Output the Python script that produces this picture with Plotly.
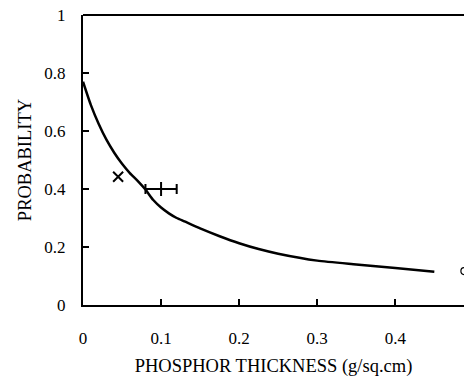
import plotly.graph_objects as go

# Fitted curve
curve_x = [0, 0.01, 0.02, 0.03, 0.04, 0.05, 0.06, 0.07, 0.08, 0.09, 0.1, 0.11, 0.12, 0.13, 0.15, 0.175, 0.2, 0.225, 0.25, 0.3, 0.35, 0.4, 0.45]
curve_y = [0.77, 0.69, 0.625, 0.57, 0.525, 0.487, 0.455, 0.428, 0.398, 0.362, 0.336, 0.316, 0.30, 0.288, 0.264, 0.237, 0.213, 0.193, 0.177, 0.153, 0.14, 0.128, 0.115]

# Measured points
cross_x = [0.045]
cross_y = [0.442]

bar_x = [0.1]
bar_y = [0.40]
bar_err = [0.02]

circle_x = [0.4885]
circle_y = [0.117]

x_ticks = [0, 0.1, 0.2, 0.3, 0.4]
x_labels = ["0", "0.1", "0.2", "0.3", "0.4"]
y_ticks = [0, 0.2, 0.4, 0.6, 0.8, 1]
y_labels = ["0", "0.2", "0.4", "0.6", "0.8", "1"]

FONT = "Liberation Serif, Times New Roman, serif"

fig = go.Figure()
fig.add_trace(go.Scatter(x=curve_x, y=curve_y, mode="lines",
                         line=dict(color="black", width=2.5, shape="spline", smoothing=0.6),
                         showlegend=False, hoverinfo="skip"))
fig.add_trace(go.Scatter(x=cross_x, y=cross_y, mode="markers",
                         marker=dict(symbol="x-thin", size=10, color="black",
                                     line=dict(color="black", width=2)),
                         showlegend=False))
fig.add_trace(go.Scatter(x=bar_x, y=bar_y, mode="markers",
                         marker=dict(symbol="line-ns", size=10, color="black",
                                     line=dict(color="black", width=2)),
                         error_x=dict(type="data", array=bar_err, visible=True,
                                      color="black", thickness=2, width=5),
                         showlegend=False))
fig.add_trace(go.Scatter(x=circle_x, y=circle_y, mode="markers",
                         marker=dict(symbol="circle-open", size=7, color="black",
                                     line=dict(color="black", width=1.2)),
                         showlegend=False))

fig.update_layout(
    width=464, height=381,
    margin=dict(l=83, r=0, t=15, b=76),
    paper_bgcolor="white", plot_bgcolor="white",
    font=dict(family=FONT, size=17, color="black"),
    xaxis=dict(range=[0, 0.488], tickvals=x_ticks, ticktext=x_labels,
               showgrid=False, zeroline=False, showline=True, linecolor="black",
               linewidth=2, ticks="inside", ticklen=6, tickwidth=1.5, tickcolor="black",
               ticklabelstandoff=17,
               tickfont=dict(family=FONT, size=17, color="black"),
               title=dict(text="PHOSPHOR THICKNESS (g/sq.cm)", standoff=12,
                          font=dict(family=FONT, size=18.5, color="black"))),
    yaxis=dict(range=[0, 1], tickvals=y_ticks, ticktext=y_labels,
               showgrid=False, zeroline=False, showline=True, linecolor="black",
               linewidth=2, ticks="inside", ticklen=6, tickwidth=1.5, tickcolor="black",
               ticklabelstandoff=12,
               tickfont=dict(family=FONT, size=17, color="black"),
               title=dict(text="PROBABILITY", standoff=8,
                          font=dict(family=FONT, size=18.5, color="black"))),
    shapes=[dict(type="line", xref="paper", yref="paper", x0=0, x1=1, y0=1, y1=1,
                 line=dict(color="black", width=2))],
)

fig.write_html("out.html")
